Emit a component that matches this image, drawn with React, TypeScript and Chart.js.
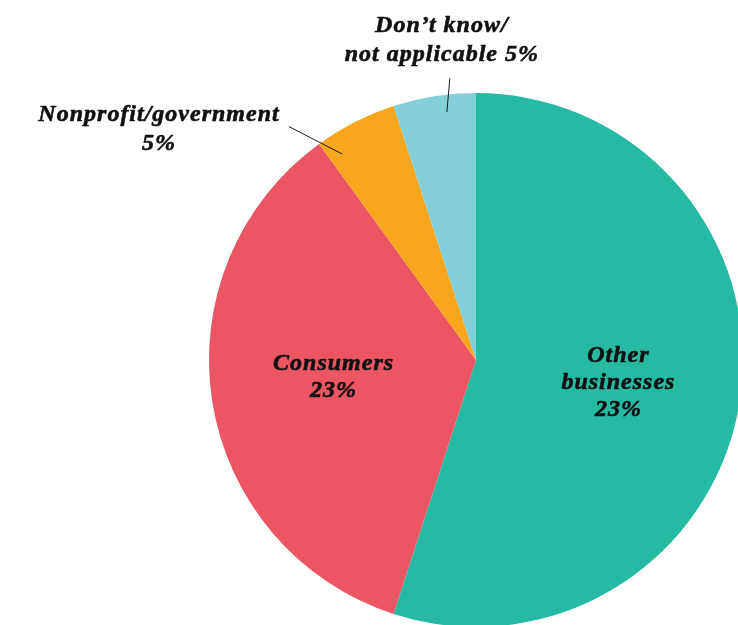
import React, { useEffect, useRef } from "react";
import { Chart, registerables } from "chart.js";

Chart.register(...registerables);

// ---- Data ----
const categories = ["Other businesses", "Consumers", "Nonprofit/government", "Don't know/not applicable"];
const shares = [55, 35, 5, 5];
const colors = ["#26BAA3", "#EC5662", "#F7A61E", "#84D0DA"];
// Label text lines as printed on the chart
const labelLines: string[][] = [
  ["Other", "businesses", "23%"],
  ["Consumers", "23%"],
  ["Nonprofit/government", "5%"],
  ["Don\u2019t know/", "not applicable 5%"],
];

// ---- Label layout (style, not data) ----
type LabelCfg =
  | { kind: "inside"; rf: number; dy: number }
  | {
      kind: "outside";
      innerDeg: number;
      innerRf: number;
      outerDeg: number;
      outerRf: number;
      textDx: number;
      textDy: number;
    };
const labelCfg: LabelCfg[] = [
  { kind: "inside", rf: 0.54, dy: 0 },
  { kind: "inside", rf: 0.54, dy: -5 },
  { kind: "outside", innerDeg: 327, innerRf: 0.92, outerDeg: 321.3, outerRf: 1.12, textDx: -130, textDy: -12 },
  { kind: "outside", innerDeg: 353.3, innerRf: 0.935, outerDeg: 354.7, outerRf: 1.06, textDx: -8, textDy: -52 },
];

const FONT = "italic bold 24px 'Liberation Serif', 'Times New Roman', serif";
const LINE_H = 27;

const labelPlugin = {
  id: "sliceLabels",
  afterDatasetsDraw(chart: any) {
    const ctx: CanvasRenderingContext2D = chart.ctx;
    const meta = chart.getDatasetMeta(0);
    ctx.save();
    ctx.font = FONT;
    (ctx as any).letterSpacing = "1px";
    ctx.fillStyle = "#111111";
    ctx.strokeStyle = "#111111";
    ctx.textAlign = "center";
    ctx.textBaseline = "middle";
    const put = (t: string, x: number, y: number) => {
      ctx.lineWidth = 0.6;
      ctx.fillText(t, x, y);
      ctx.strokeText(t, x, y);
    };
    meta.data.forEach((arc: any, i: number) => {
      const p = arc.getProps(["x", "y", "startAngle", "endAngle", "outerRadius"], true);
      const cfg = labelCfg[i];
      const lines = labelLines[i];
      const polar = (deg: number, rf: number) => {
        const a = ((deg - 90) * Math.PI) / 180;
        return { x: p.x + Math.cos(a) * p.outerRadius * rf, y: p.y + Math.sin(a) * p.outerRadius * rf };
      };
      if (cfg.kind === "inside") {
        const mid = (p.startAngle + p.endAngle) / 2;
        const cx = p.x + Math.cos(mid) * p.outerRadius * cfg.rf;
        const cy = p.y + Math.sin(mid) * p.outerRadius * cfg.rf + cfg.dy;
        const top = cy - ((lines.length - 1) * LINE_H) / 2;
        lines.forEach((t, k) => put(t, cx, top + k * LINE_H));
      } else {
        const a = polar(cfg.innerDeg, cfg.innerRf);
        const b = polar(cfg.outerDeg, cfg.outerRf);
        ctx.beginPath();
        ctx.strokeStyle = "#1a1a1a";
        ctx.lineWidth = 1;
        ctx.moveTo(a.x, a.y);
        ctx.lineTo(b.x, b.y);
        ctx.stroke();
        ctx.strokeStyle = "#111111";
        const tx = b.x + cfg.textDx;
        const ty = b.y + cfg.textDy;
        lines.forEach((t, k) => put(t, tx, ty + k * (LINE_H + 2)));
      }
    });
    ctx.restore();
  },
};

export default function App() {
  const ref = useRef<HTMLCanvasElement | null>(null);
  useEffect(() => {
    if (!ref.current) return;
    const chart = new Chart(ref.current, {
      type: "pie",
      data: {
        labels: categories,
        datasets: [
          {
            data: shares,
            backgroundColor: colors,
            borderWidth: 0,
          },
        ],
      },
      options: {
        animation: false,
        responsive: false,
        devicePixelRatio: 1,
        layout: { padding: { top: 93, bottom: 93, left: 209, right: 209 } },
        plugins: {
          legend: { display: false },
          tooltip: { enabled: false },
        },
      },
      plugins: [labelPlugin],
    });
    return () => chart.destroy();
  }, []);
  return (
    <div
      style={{
        position: "fixed",
        left: 0,
        top: 0,
        width: 738,
        height: 625,
        overflow: "hidden",
        background: "#ffffff",
      }}
    >
      <canvas ref={ref} width={952} height={720} style={{ width: 952, height: 720, display: "block" }} />
    </div>
  );
}
